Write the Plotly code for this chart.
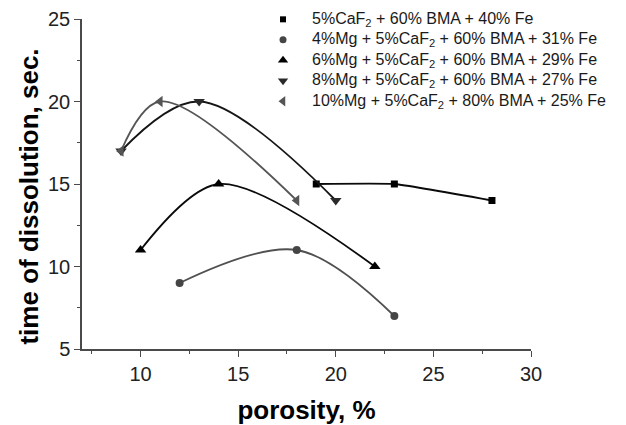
import plotly.graph_objects as go

# ---- data ----
series_labels = [
    "5%CaF<sub>2</sub> + 60% BMA + 40% Fe",
    "4%Mg + 5%CaF<sub>2</sub> + 60% BMA + 31% Fe",
    "6%Mg + 5%CaF<sub>2</sub> + 60% BMA + 29% Fe",
    "8%Mg + 5%CaF<sub>2</sub> + 60% BMA + 27% Fe",
    "10%Mg + 5%CaF<sub>2</sub> + 80% BMA + 25% Fe",
]
porosity_s1 = [19, 23, 28]
time_s1 = [15, 15, 14]
porosity_s2 = [12, 18, 23]
time_s2 = [9, 11, 7]
porosity_s3 = [10, 14, 22]
time_s3 = [11, 15, 10]
porosity_s4 = [9, 13, 20]
time_s4 = [17, 20, 14]
porosity_s5 = [9, 11, 18]
time_s5 = [17, 20, 14]

x_title = "porosity, %"
y_title = "time of dissolution, sec."

# ---- styles ----
xs = [porosity_s1, porosity_s2, porosity_s3, porosity_s4, porosity_s5]
ys = [time_s1, time_s2, time_s3, time_s4, time_s5]
symbols = ["square", "circle", "triangle-up", "triangle-down", "triangle-left"]
marker_colors = ["#000000", "#454545", "#000000", "#2a2a2a", "#555555"]
line_colors = ["#0a0a0a", "#505050", "#0a0a0a", "#151515", "#555555"]
marker_sizes = [7, 8, 10, 10, 10]
smooth = [0.4, 1.0, 0.9, 1.0, 1.0]

FONT = "Liberation Sans, Arial, sans-serif"

fig = go.Figure()
for i in range(5):
    fig.add_trace(go.Scatter(
        x=xs[i], y=ys[i], mode="lines+markers",
        line=dict(color=line_colors[i], width=1.8, shape="spline", smoothing=smooth[i]),
        marker=dict(symbol=symbols[i], color=marker_colors[i], size=marker_sizes[i]),
        showlegend=False, cliponaxis=False,
    ))

# custom legend (markers on an overlay paper-like axis, text as annotations)
leg_marker_x = 0.4477
leg_text_x = 0.508
leg_top = 0.999
leg_step = 0.0621
for i in range(5):
    yy = leg_top - i * leg_step
    fig.add_trace(go.Scatter(
        x=[leg_marker_x], y=[yy], mode="markers",
        marker=dict(symbol=symbols[i], color=marker_colors[i], size=marker_sizes[i] - 1),
        xaxis="x2", yaxis="y2", showlegend=False, cliponaxis=False, hoverinfo="skip",
    ))
    fig.add_annotation(
        x=leg_text_x, y=yy, xref="paper", yref="paper", text=series_labels[i],
        showarrow=False, xanchor="left", yanchor="middle",
        font=dict(family=FONT, size=16, color="#1a1a1a"),
    )

# y title as annotation
fig.add_annotation(
    x=-0.118, y=0.462, xref="paper", yref="paper", text="<b>" + y_title + "</b>",
    textangle=-90, showarrow=False, xanchor="center", yanchor="middle",
    font=dict(family=FONT, size=26, color="#000000"),
)

axis_common = dict(
    showline=True, linecolor="#4a4a4a", linewidth=1.5,
    ticks="outside", ticklen=6, tickwidth=1.3, tickcolor="#4a4a4a",
    showgrid=False, zeroline=False,
    tickfont=dict(family=FONT, size=20, color="#222222"),
    mirror=False, automargin=False,
)

fig.update_layout(
    width=626, height=425,
    margin=dict(l=82, r=95, t=19, b=76, autoexpand=False),
    paper_bgcolor="white", plot_bgcolor="white",
    showlegend=False,
    xaxis=dict(
        range=[7, 30], tickmode="linear", tick0=0, dtick=5,
        minor=dict(ticks="outside", ticklen=3, dtick=2.5, tick0=0, tickcolor="#4a4a4a", tickwidth=1.2),
        title=dict(text="<b>" + x_title + "</b>", font=dict(family=FONT, size=26, color="#000000"), standoff=20),
        **axis_common,
    ),
    yaxis=dict(
        range=[5, 25], tickmode="linear", tick0=0, dtick=5,
        minor=dict(ticks="outside", ticklen=3, dtick=2.5, tick0=0, tickcolor="#4a4a4a", tickwidth=1.2),
        **axis_common,
    ),
    xaxis2=dict(overlaying="x", range=[0, 1], visible=False, fixedrange=True),
    yaxis2=dict(overlaying="y", range=[0, 1], visible=False, fixedrange=True),
)

fig.write_html("out.html")
